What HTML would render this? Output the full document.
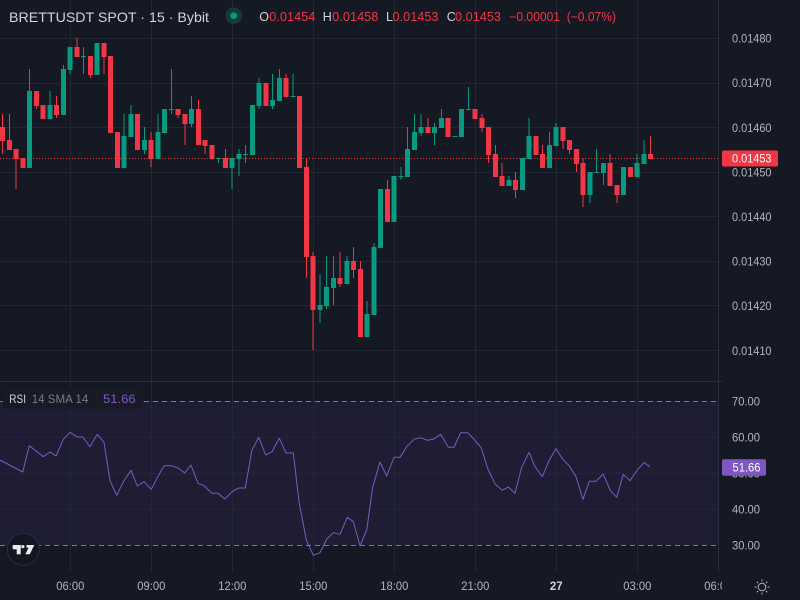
<!DOCTYPE html>
<html><head><meta charset="utf-8">
<style>
html,body{margin:0;padding:0;background:#151924;}
svg{display:block;}
text{font-family:"Liberation Sans",sans-serif;}
</style></head>
<body>
<svg width="800" height="600" viewBox="0 0 800 600" xmlns="http://www.w3.org/2000/svg">
<defs>
<clipPath id="tclip"><rect x="0" y="572" width="722" height="28"/></clipPath>
</defs>
<rect x="0" y="0" width="800" height="600" fill="#151924"/>

<!-- RSI band -->
<rect x="0" y="401" width="718" height="144" fill="#1f1d33"/>

<!-- grid -->
<g stroke="#232733" stroke-width="1" shape-rendering="crispEdges">
<path d="M70.5 0V572M151.5 0V572M232.5 0V572M313.5 0V572M394.5 0V572M475.5 0V572M556.5 0V572M637.5 0V572"/>
<path d="M0 38.5H718M0 83.5H718M0 127.5H718M0 172.5H718M0 216.5H718M0 261.5H718M0 305.5H718M0 350.5H718"/>
<path d="M0 437.5H718M0 473.5H718M0 509.5H718"/>
</g>
<g stroke="#2a2e39" stroke-width="1" shape-rendering="crispEdges">
<path d="M718.5 0V572"/>
<path d="M0 381.5H722"/>
</g>

<!-- RSI dashed lines -->
<g stroke="#787b86" stroke-width="1" stroke-dasharray="5 4" shape-rendering="crispEdges">
<path d="M0 401.5H720M0 545.5H720"/>
</g>

<!-- price line -->
<path d="M0 158.5H718" stroke="#f23645" stroke-width="1" stroke-dasharray="1 2" shape-rendering="crispEdges"/>

<!-- green candles -->
<g fill="#089981" shape-rendering="crispEdges">
<rect x="27" y="91" width="5" height="77"/><rect x="29" y="69" width="1" height="99"/>
<rect x="47.25" y="105" width="5" height="14"/><rect x="49.25" y="91" width="1" height="28"/>
<rect x="60.75" y="69" width="5" height="46"/><rect x="62.75" y="65" width="1" height="50"/>
<rect x="67.5" y="47" width="5" height="23"/><rect x="69.5" y="47" width="1" height="27"/>
<rect x="81" y="56" width="5" height="1"/><rect x="83" y="47" width="1" height="27"/>
<rect x="94.5" y="43" width="5" height="32"/>
<rect x="121.5" y="136" width="5" height="32"/><rect x="123.5" y="114" width="1" height="54"/>
<rect x="128.25" y="114" width="5" height="23"/><rect x="130.25" y="105" width="1" height="32"/>
<rect x="141.75" y="140" width="5" height="10"/><rect x="143.75" y="127" width="1" height="27"/>
<rect x="155.25" y="132" width="5" height="27"/><rect x="157.25" y="114" width="1" height="45"/>
<rect x="162" y="109" width="5" height="24"/>
<rect x="168.75" y="109" width="5" height="1"/><rect x="170.75" y="69" width="1" height="45"/>
<rect x="189" y="109" width="5" height="15"/><rect x="191" y="96" width="1" height="31"/>
<rect x="216" y="158" width="5" height="1"/><rect x="218" y="158" width="1" height="5"/>
<rect x="229.5" y="158" width="5" height="10"/><rect x="231.5" y="158" width="1" height="31"/>
<rect x="236.25" y="154" width="5" height="5"/><rect x="238.25" y="149" width="1" height="27"/>
<rect x="243" y="154" width="5" height="1"/><rect x="245" y="145" width="1" height="18"/>
<rect x="249.75" y="105" width="5" height="50"/>
<rect x="256.5" y="83" width="5" height="23"/><rect x="258.5" y="78" width="1" height="31"/>
<rect x="270" y="100" width="5" height="6"/><rect x="272" y="74" width="1" height="35"/>
<rect x="276.75" y="78" width="5" height="23"/><rect x="278.75" y="69" width="1" height="32"/>
<rect x="290.25" y="96" width="5" height="1"/><rect x="292.25" y="74" width="1" height="23"/>
<rect x="317.25" y="305" width="5" height="5"/><rect x="319.25" y="274" width="1" height="49"/>
<rect x="324" y="287" width="5" height="19"/><rect x="326" y="256" width="1" height="53"/>
<rect x="330.75" y="278" width="5" height="10"/><rect x="332.75" y="256" width="1" height="49"/>
<rect x="344.25" y="261" width="5" height="23"/><rect x="346.25" y="256" width="1" height="28"/>
<rect x="364.5" y="314" width="5" height="23"/><rect x="366.5" y="301" width="1" height="36"/>
<rect x="371.25" y="247" width="5" height="68"/><rect x="373.25" y="243" width="1" height="72"/>
<rect x="378" y="189" width="5" height="59"/>
<rect x="391.5" y="176" width="5" height="46"/>
<rect x="398.25" y="176" width="5" height="1"/><rect x="400.25" y="167" width="1" height="13"/>
<rect x="405" y="149" width="5" height="28"/><rect x="407" y="127" width="1" height="50"/>
<rect x="411.75" y="132" width="5" height="18"/><rect x="413.75" y="114" width="1" height="36"/>
<rect x="418.5" y="127" width="5" height="6"/><rect x="420.5" y="114" width="1" height="22"/>
<rect x="432" y="127" width="5" height="6"/><rect x="434" y="123" width="1" height="22"/>
<rect x="438.75" y="118" width="5" height="10"/><rect x="440.75" y="109" width="1" height="19"/>
<rect x="452.25" y="136" width="5" height="1"/>
<rect x="459" y="109" width="5" height="28"/>
<rect x="465.75" y="109" width="5" height="1"/><rect x="467.75" y="87" width="1" height="23"/>
<rect x="506.25" y="180" width="5" height="6"/><rect x="508.25" y="176" width="1" height="10"/>
<rect x="519.75" y="158" width="5" height="32"/>
<rect x="526.5" y="136" width="5" height="23"/><rect x="528.5" y="118" width="1" height="41"/>
<rect x="546.75" y="145" width="5" height="23"/><rect x="548.75" y="132" width="1" height="36"/>
<rect x="553.5" y="127" width="5" height="19"/><rect x="555.5" y="123" width="1" height="23"/>
<rect x="587.25" y="172" width="5" height="23"/><rect x="589.25" y="172" width="1" height="31"/>
<rect x="594" y="172" width="5" height="1"/><rect x="596" y="149" width="1" height="24"/>
<rect x="600.75" y="163" width="5" height="10"/><rect x="602.75" y="163" width="1" height="22"/>
<rect x="621" y="167" width="5" height="28"/>
<rect x="634.5" y="163" width="5" height="14"/><rect x="636.5" y="154" width="1" height="23"/>
<rect x="641.25" y="154" width="5" height="10"/><rect x="643.25" y="140" width="1" height="24"/>
</g>

<!-- red candles -->
<g fill="#f23645" shape-rendering="crispEdges">
<rect x="0" y="127" width="5" height="14"/><rect x="2" y="114" width="1" height="40"/>
<rect x="6.75" y="140" width="5" height="10"/><rect x="8.75" y="114" width="1" height="36"/>
<rect x="13.5" y="149" width="5" height="10"/><rect x="15.5" y="149" width="1" height="40"/>
<rect x="20.25" y="158" width="5" height="10"/>
<rect x="33.75" y="91" width="5" height="15"/><rect x="35.75" y="91" width="1" height="18"/>
<rect x="40.5" y="105" width="5" height="14"/>
<rect x="54" y="105" width="5" height="10"/><rect x="56" y="96" width="1" height="22"/>
<rect x="74.25" y="47" width="5" height="10"/><rect x="76.25" y="38" width="1" height="19"/>
<rect x="87.75" y="56" width="5" height="19"/><rect x="89.75" y="56" width="1" height="22"/>
<rect x="101.25" y="43" width="5" height="14"/><rect x="103.25" y="43" width="1" height="31"/>
<rect x="108" y="56" width="5" height="77"/>
<rect x="114.75" y="132" width="5" height="36"/>
<rect x="135" y="114" width="5" height="36"/>
<rect x="148.5" y="140" width="5" height="19"/><rect x="150.5" y="132" width="1" height="35"/>
<rect x="175.5" y="109" width="5" height="6"/><rect x="177.5" y="109" width="1" height="9"/>
<rect x="182.25" y="114" width="5" height="10"/><rect x="184.25" y="114" width="1" height="31"/>
<rect x="195.75" y="109" width="5" height="36"/><rect x="197.75" y="100" width="1" height="45"/>
<rect x="202.5" y="140" width="5" height="6"/><rect x="204.5" y="140" width="1" height="14"/>
<rect x="209.25" y="145" width="5" height="14"/>
<rect x="222.75" y="158" width="5" height="10"/><rect x="224.75" y="149" width="1" height="19"/>
<rect x="263.25" y="83" width="5" height="23"/>
<rect x="283.5" y="78" width="5" height="19"/><rect x="285.5" y="74" width="1" height="23"/>
<rect x="297" y="96" width="5" height="72"/>
<rect x="303.75" y="167" width="5" height="90"/><rect x="305.75" y="158" width="1" height="120"/>
<rect x="310.5" y="256" width="5" height="54"/><rect x="312.5" y="252" width="1" height="98"/>
<rect x="337.5" y="278" width="5" height="6"/><rect x="339.5" y="252" width="1" height="35"/>
<rect x="351" y="261" width="5" height="9"/><rect x="353" y="247" width="1" height="31"/>
<rect x="357.75" y="269" width="5" height="68"/><rect x="359.75" y="261" width="1" height="76"/>
<rect x="384.75" y="189" width="5" height="33"/><rect x="386.75" y="180" width="1" height="42"/>
<rect x="425.25" y="127" width="5" height="6"/><rect x="427.25" y="118" width="1" height="15"/>
<rect x="445.5" y="118" width="5" height="19"/>
<rect x="472.5" y="109" width="5" height="10"/>
<rect x="479.25" y="118" width="5" height="10"/><rect x="481.25" y="114" width="1" height="18"/>
<rect x="486" y="127" width="5" height="28"/><rect x="488" y="127" width="1" height="36"/>
<rect x="492.75" y="154" width="5" height="23"/><rect x="494.75" y="145" width="1" height="32"/>
<rect x="499.5" y="176" width="5" height="10"/><rect x="501.5" y="163" width="1" height="23"/>
<rect x="513" y="180" width="5" height="10"/><rect x="515" y="172" width="1" height="26"/>
<rect x="533.25" y="136" width="5" height="19"/>
<rect x="540" y="154" width="5" height="14"/><rect x="542" y="145" width="1" height="23"/>
<rect x="560.25" y="127" width="5" height="14"/><rect x="562.25" y="127" width="1" height="22"/>
<rect x="567" y="140" width="5" height="10"/><rect x="569" y="140" width="1" height="14"/>
<rect x="573.75" y="149" width="5" height="15"/><rect x="575.75" y="149" width="1" height="23"/>
<rect x="580.5" y="163" width="5" height="32"/><rect x="582.5" y="158" width="1" height="49"/>
<rect x="607.5" y="163" width="5" height="23"/><rect x="609.5" y="154" width="1" height="32"/>
<rect x="614.25" y="185" width="5" height="10"/><rect x="616.25" y="185" width="1" height="18"/>
<rect x="627.75" y="167" width="5" height="10"/>
<rect x="648" y="154" width="5" height="5"/><rect x="650" y="136" width="1" height="23"/>
</g>

<!-- RSI line -->
<polyline fill="none" stroke="#7e57c2" stroke-width="1" stroke-linejoin="round" points="0,460 22.7,472 29.3,445.7 43.3,456.7 50,452 56,456 63.3,439.3 70,432.3 76.7,436.7 82.7,437 90,446.7 97.3,434.3 104,442.3 110,480.7 116.7,495.3 124,480.7 131,470.3 137.3,486 144,481.7 151.3,489.3 157.3,477.7 164,465.7 171.3,465.7 178,468 184.7,473 191,465 198,483.3 204,485.7 212,493.3 218,493.3 225,499 232,491.7 238.7,488 245.3,488 252,450 258.7,437.3 265.7,455 272,451.7 279.3,438.3 286,453 293.3,453 299,501.7 306.3,540 313.3,555.3 320,552.7 326.7,539 333.3,532.7 340,534.3 347.3,517.3 353.3,521.7 360,545.7 366.7,530 372.7,487.3 380,462 386.7,476 394,457.3 400,457.3 406.7,446.7 414,439.3 420.7,437.7 427.3,440.3 433.3,439.3 440.7,434.3 448.3,447.3 454,447.3 460.7,432.7 467.7,432.7 474.7,440 481.3,448 488,469.3 495.3,484.3 502,490.3 508.3,487 515,493.3 521.7,467.3 529,452.3 535,466.7 542.3,476.7 549.3,460 556,448.7 562.7,459.3 569.3,466 576,476.7 583,499.3 589.3,481.3 596,481.3 603.3,474 610,490 616.7,497.3 623.3,474.3 630,480.7 637.3,470 644,462.7 650,466.7"/>

<!-- RSI legend -->
<rect x="3" y="389" width="139" height="20" rx="2" fill="#181b26"/>
<text x="9.3" y="403" font-size="12" fill="#d1d4dc" textLength="16.7" lengthAdjust="spacingAndGlyphs">RSI</text>
<text x="31.7" y="403" font-size="12" fill="#787b86" textLength="56.6" lengthAdjust="spacingAndGlyphs">14 SMA 14</text>
<text x="103" y="403" font-size="12" fill="#7e57c2" textLength="32.7" lengthAdjust="spacingAndGlyphs">51.66</text>

<!-- header -->
<text x="9" y="22" font-size="14" fill="#d1d4dc" textLength="200" lengthAdjust="spacingAndGlyphs">BRETTUSDT SPOT · 15 · Bybit</text>
<circle cx="233.7" cy="15.7" r="8.3" fill="#163a36"/>
<circle cx="233.7" cy="15.7" r="3.4" fill="#089981"/>
<g font-size="12.5">
<text x="259.3" y="21" fill="#d1d4dc">O</text>
<text x="269.3" y="21" fill="#f23645" textLength="46" lengthAdjust="spacingAndGlyphs">0.01454</text>
<text x="322.7" y="21" fill="#d1d4dc">H</text>
<text x="332.3" y="21" fill="#f23645" textLength="46" lengthAdjust="spacingAndGlyphs">0.01458</text>
<text x="386" y="21" fill="#d1d4dc">L</text>
<text x="392.5" y="21" fill="#f23645" textLength="46" lengthAdjust="spacingAndGlyphs">0.01453</text>
<text x="446.7" y="21" fill="#d1d4dc">C</text>
<text x="455" y="21" fill="#f23645" textLength="46" lengthAdjust="spacingAndGlyphs">0.01453</text>
<text x="509.3" y="21" fill="#f23645" textLength="50.7" lengthAdjust="spacingAndGlyphs">−0.00001</text>
<text x="566.7" y="21" fill="#f23645" textLength="49.3" lengthAdjust="spacingAndGlyphs">(−0.07%)</text>
</g>

<!-- price axis -->
<g font-size="11.5" fill="#b2b5be">
<text x="732" y="42.6" textLength="39.5" lengthAdjust="spacingAndGlyphs">0.01480</text>
<text x="732" y="87.2" textLength="39.5" lengthAdjust="spacingAndGlyphs">0.01470</text>
<text x="732" y="131.8" textLength="39.5" lengthAdjust="spacingAndGlyphs">0.01460</text>
<text x="732" y="176.6" textLength="39.5" lengthAdjust="spacingAndGlyphs">0.01450</text>
<text x="732" y="221" textLength="39.5" lengthAdjust="spacingAndGlyphs">0.01440</text>
<text x="732" y="265.6" textLength="39.5" lengthAdjust="spacingAndGlyphs">0.01430</text>
<text x="732" y="310.2" textLength="39.5" lengthAdjust="spacingAndGlyphs">0.01420</text>
<text x="732" y="354.8" textLength="39.5" lengthAdjust="spacingAndGlyphs">0.01410</text>
<text x="732" y="405.6" textLength="28" lengthAdjust="spacingAndGlyphs">70.00</text>
<text x="732" y="441.6" textLength="28" lengthAdjust="spacingAndGlyphs">60.00</text>
<text x="732" y="477.6" textLength="28" lengthAdjust="spacingAndGlyphs">50.00</text>
<text x="732" y="513.6" textLength="28" lengthAdjust="spacingAndGlyphs">40.00</text>
<text x="732" y="549.6" textLength="28" lengthAdjust="spacingAndGlyphs">30.00</text>
</g>
<rect x="722" y="150.5" width="56" height="16" rx="2" fill="#f23645"/>
<text x="732" y="162.6" font-size="11.5" fill="#ffffff" textLength="39.5" lengthAdjust="spacingAndGlyphs">0.01453</text>
<rect x="722" y="459.3" width="44" height="16.4" rx="2" fill="#7e57c2"/>
<text x="732.5" y="471.6" font-size="11.5" fill="#ffffff" textLength="28" lengthAdjust="spacingAndGlyphs">51.66</text>

<!-- time axis -->
<g font-size="11.5" fill="#b2b5be" text-anchor="middle" clip-path="url(#tclip)">
<text x="70.3" y="590" textLength="28" lengthAdjust="spacingAndGlyphs">06:00</text>
<text x="151.3" y="590" textLength="28" lengthAdjust="spacingAndGlyphs">09:00</text>
<text x="232.3" y="590" textLength="28" lengthAdjust="spacingAndGlyphs">12:00</text>
<text x="313.3" y="590" textLength="28" lengthAdjust="spacingAndGlyphs">15:00</text>
<text x="394.3" y="590" textLength="28" lengthAdjust="spacingAndGlyphs">18:00</text>
<text x="475.3" y="590" textLength="28" lengthAdjust="spacingAndGlyphs">21:00</text>
<text x="556.3" y="590" font-weight="bold" fill="#d1d4dc">27</text>
<text x="637.3" y="590" textLength="28" lengthAdjust="spacingAndGlyphs">03:00</text>
<text x="718.3" y="590" textLength="28" lengthAdjust="spacingAndGlyphs">06:00</text>
</g>

<!-- settings sun icon -->
<g stroke="#b2b5be" stroke-width="1" fill="none">
<circle cx="762" cy="587" r="3.8"/>
<path d="M762 579.5V581.5M762 592.5V594.5M754.5 587H756.5M767.5 587H769.5M756.7 581.7L758.1 583.1M765.9 590.9L767.3 592.3M756.7 592.3L758.1 590.9M765.9 583.1L767.3 581.7"/>
</g>

<!-- TV logo -->
<circle cx="23.3" cy="549.3" r="16" fill="#131722" stroke="#2a2e39" stroke-width="1"/>
<g fill="#e8e9ec">
<rect x="12.7" y="545" width="8" height="4.3"/>
<rect x="16.7" y="545" width="4" height="9.3"/>
<circle cx="22.9" cy="546.6" r="1.6"/>
<polygon points="26.5,545 34.3,545 29.8,554.3 25.3,554.3 28.6,547.6 26.5,547.6"/>
</g>
</svg>
</body></html>
